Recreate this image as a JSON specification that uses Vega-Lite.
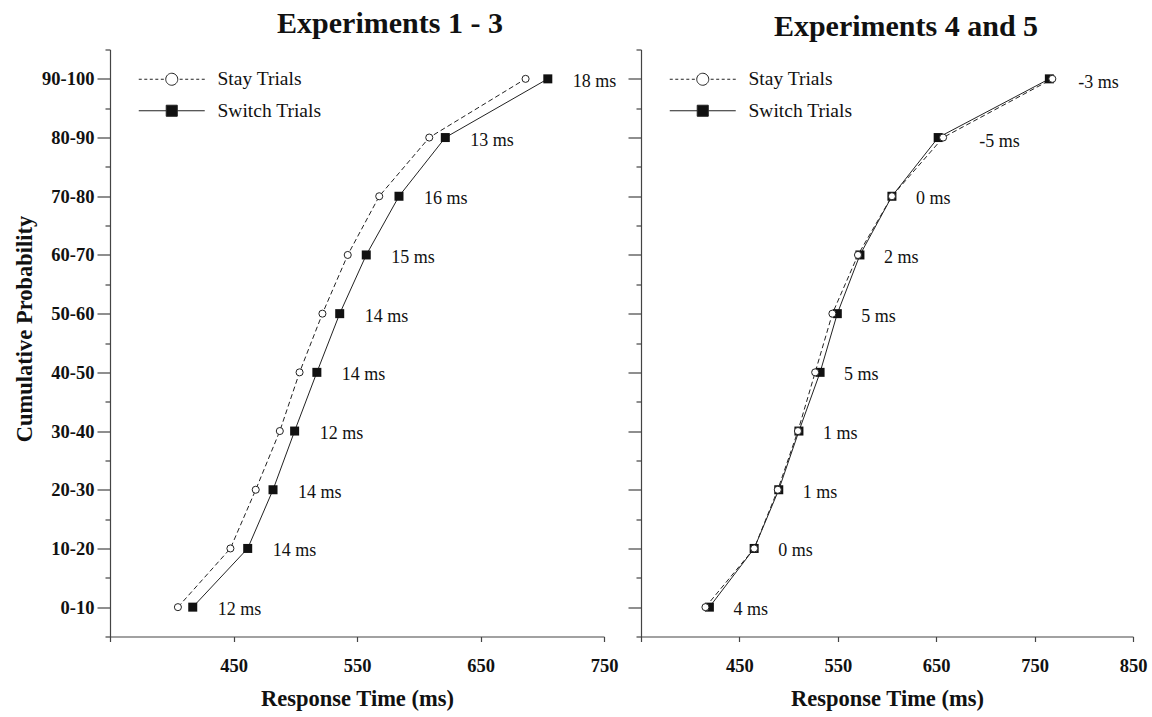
{
  "$schema": "https://vega.github.io/schema/vega-lite/v6.json",
  "background": "white",
  "padding": {"left": 13, "top": 8.5, "right": 5, "bottom": 5},
  "bounds": "flush",
  "spacing": 37,
  "config": {
    "view": {"stroke": null},
    "font": "Liberation Serif",
    "axis": {"domainColor": "#444", "tickColor": "#444", "domainWidth": 1.2, "tickWidth": 1.2, "labelFont": "Liberation Serif", "labelFontWeight": "bold", "labelFontSize": 18.5, "labelColor": "#111", "titleFont": "Liberation Serif", "titleFontWeight": "bold", "titleFontSize": 22.5, "titleColor": "#111", "grid": false, "labelFlush": false},
    "title": {"font": "Liberation Serif", "fontSize": 30, "fontWeight": "bold", "color": "#111", "anchor": "middle", "frame": "group"},
    "legend": {"labelFont": "Liberation Serif", "labelFontSize": 19.5, "labelColor": "#111", "symbolSize": 144, "labelOffset": 36, "symbolOffset": 5, "rowPadding": 10.5, "padding": 0, "symbolStrokeWidth": 1, "symbolStrokeColor": "#222"}
  },
  "datasets": {
    "left": [
      {"p": 1, "series": "Stay Trials", "rt": 405},
      {"p": 2, "series": "Stay Trials", "rt": 447.5},
      {"p": 3, "series": "Stay Trials", "rt": 468},
      {"p": 4, "series": "Stay Trials", "rt": 487.5},
      {"p": 5, "series": "Stay Trials", "rt": 503.5},
      {"p": 6, "series": "Stay Trials", "rt": 522},
      {"p": 7, "series": "Stay Trials", "rt": 542.5},
      {"p": 8, "series": "Stay Trials", "rt": 568},
      {"p": 9, "series": "Stay Trials", "rt": 608.5},
      {"p": 10, "series": "Stay Trials", "rt": 686.5},
      {"p": 1, "series": "Switch Trials", "rt": 417, "label": "12 ms"},
      {"p": 2, "series": "Switch Trials", "rt": 461.5, "label": "14 ms"},
      {"p": 3, "series": "Switch Trials", "rt": 482, "label": "14 ms"},
      {"p": 4, "series": "Switch Trials", "rt": 499.5, "label": "12 ms"},
      {"p": 5, "series": "Switch Trials", "rt": 517.5, "label": "14 ms"},
      {"p": 6, "series": "Switch Trials", "rt": 536, "label": "14 ms"},
      {"p": 7, "series": "Switch Trials", "rt": 557.5, "label": "15 ms"},
      {"p": 8, "series": "Switch Trials", "rt": 584, "label": "16 ms"},
      {"p": 9, "series": "Switch Trials", "rt": 621.5, "label": "13 ms"},
      {"p": 10, "series": "Switch Trials", "rt": 704.5, "label": "18 ms"}
    ],
    "right": [
      {"p": 1, "series": "Stay Trials", "rt": 415.5},
      {"p": 2, "series": "Stay Trials", "rt": 465},
      {"p": 3, "series": "Stay Trials", "rt": 489},
      {"p": 4, "series": "Stay Trials", "rt": 509.5},
      {"p": 5, "series": "Stay Trials", "rt": 527},
      {"p": 6, "series": "Stay Trials", "rt": 544.5},
      {"p": 7, "series": "Stay Trials", "rt": 570.5},
      {"p": 8, "series": "Stay Trials", "rt": 605},
      {"p": 9, "series": "Stay Trials", "rt": 657},
      {"p": 10, "series": "Stay Trials", "rt": 768},
      {"p": 1, "series": "Switch Trials", "rt": 419.5, "label": "4 ms"},
      {"p": 2, "series": "Switch Trials", "rt": 465, "label": "0 ms"},
      {"p": 3, "series": "Switch Trials", "rt": 490, "label": "1 ms"},
      {"p": 4, "series": "Switch Trials", "rt": 510.5, "label": "1 ms"},
      {"p": 5, "series": "Switch Trials", "rt": 532, "label": "5 ms"},
      {"p": 6, "series": "Switch Trials", "rt": 549.5, "label": "5 ms"},
      {"p": 7, "series": "Switch Trials", "rt": 572.5, "label": "2 ms"},
      {"p": 8, "series": "Switch Trials", "rt": 605, "label": "0 ms"},
      {"p": 9, "series": "Switch Trials", "rt": 652, "label": "-5 ms"},
      {"p": 10, "series": "Switch Trials", "rt": 765, "label": "-3 ms"}
    ]
  },
  "resolve": {"scale": {"shape": "independent", "fill": "independent", "stroke": "independent"}, "legend": {"shape": "independent", "fill": "independent", "stroke": "independent"}},
  "hconcat": [
    {
      "width": 494,
      "height": 587,
      "data": {"name": "left"},
      "title": {"text": "Experiments 1 - 3", "dx": 33, "offset": 9.5},
      "encoding": {
        "x": {"field": "rt", "type": "quantitative", "scale": {"domain": [350, 750], "nice": false, "zero": false},
          "axis": {"values": [350, 450, 550, 650, 750], "labelExpr": "datum.value == 350 ? '' : datum.label", "tickSize": 5, "labelPadding": 15, "title": "Response Time (ms)", "titleY": 68.5, "titleBaseline": "alphabetic"}}
      },
      "resolve": {"axis": {"y": "independent"}},
      "layer": [
        {
          "transform": [{"filter": "datum.series == 'Switch Trials'"}],
          "mark": {"type": "line", "stroke": "#222", "strokeWidth": 1},
          "encoding": {
            "y": {"field": "p", "type": "quantitative", "scale": {"domain": [0.5, 10.5], "nice": false, "zero": false},
              "axis": {"orient": "left", "values": [1, 2, 3, 4, 5, 6, 7, 8, 9, 10], "labelExpr": "['', '0-10', '10-20', '20-30', '30-40', '40-50', '50-60', '60-70', '70-80', '80-90', '90-100'][datum.value]", "tickSize": 13, "labelPadding": 3, "title": "Cumulative Probability", "titleX": -78.5, "titleY": 279, "titleBaseline": "alphabetic"}},
            "order": {"field": "p", "type": "quantitative"}
          }
        },
        {
          "transform": [{"filter": "datum.series == 'Stay Trials'"}],
          "mark": {"type": "line", "stroke": "#222", "strokeWidth": 1, "strokeDash": [5, 3]},
          "encoding": {
            "y": {"field": "p", "type": "quantitative", "scale": {"domain": [0.5, 10.5], "nice": false, "zero": false},
              "axis": {"orient": "left", "values": [0.5, 1.5, 2.5, 3.5, 4.5, 5.5, 6.5, 7.5, 8.5, 9.5, 10.5], "tickSize": 5, "labels": false, "domain": false, "title": null}},
            "order": {"field": "p", "type": "quantitative"}
          }
        },
        {
          "transform": [{"filter": "datum.series == 'Switch Trials'"}],
          "mark": {"type": "point", "shape": "square", "filled": true, "fill": "#111", "size": 81, "opacity": 1, "strokeWidth": 0},
          "encoding": {"y": {"field": "p", "type": "quantitative", "axis": null}}
        },
        {
          "transform": [{"filter": "datum.series == 'Stay Trials'"}],
          "mark": {"type": "point", "shape": "circle", "filled": true, "fill": "white", "stroke": "#222", "strokeWidth": 1, "size": 50, "opacity": 1},
          "encoding": {"y": {"field": "p", "type": "quantitative", "axis": null}}
        },
        {
          "transform": [{"filter": "datum.series == 'Switch Trials'"}],
          "mark": {"type": "text", "align": "left", "baseline": "middle", "dx": 25, "dy": 3, "fontSize": 18, "font": "Liberation Serif", "color": "#111"},
          "encoding": {"y": {"field": "p", "type": "quantitative", "axis": null}, "text": {"field": "label"}}
        },
        {
          "transform": [{"filter": "datum.p > 99"}],
          "mark": {"type": "point", "filled": true, "opacity": 1, "strokeWidth": 1},
          "encoding": {
            "y": {"field": "p", "type": "quantitative", "axis": null},
            "shape": {"field": "series", "type": "nominal", "scale": {"domain": ["Stay Trials", "Switch Trials"], "range": ["M-5.5,0L-5,0M-4.58,0L-4.08,0M-3.66,0L-3.16,0M-2.74,0L-2.24,0M-1.82,0L-1.32,0M1.32,0L1.82,0M2.24,0L2.74,0M3.16,0L3.66,0M4.08,0L4.58,0M5,0L5.5,0M1,0A1,1,0,1,1,-1,0A1,1,0,1,1,1,0Z", "M-5.5,0L-0.92,0M0.92,0L5.5,0M-0.92,-0.92L0.92,-0.92L0.92,0.92L-0.92,0.92Z"]}, "legend": {"title": null, "orient": "none", "legendX": 47, "legendY": 20}},
            "fill": {"field": "series", "type": "nominal", "scale": {"domain": ["Stay Trials", "Switch Trials"], "range": ["white", "#111"]}, "legend": {"title": null, "orient": "none", "legendX": 47, "legendY": 20}},
            "stroke": {"field": "series", "type": "nominal", "scale": {"domain": ["Stay Trials", "Switch Trials"], "range": ["#222", "#222"]}, "legend": {"title": null, "orient": "none", "legendX": 47, "legendY": 20}}
          }
        }
      ]
    },
    {
      "width": 492,
      "height": 587,
      "data": {"name": "right"},
      "title": {"text": "Experiments 4 and 5", "dx": 19, "offset": 6.5},
      "encoding": {
        "x": {"field": "rt", "type": "quantitative", "scale": {"domain": [350, 850], "nice": false, "zero": false},
          "axis": {"values": [350, 450, 550, 650, 750, 850], "labelExpr": "datum.value == 350 ? '' : datum.label", "tickSize": 5, "labelPadding": 15, "title": "Response Time (ms)", "titleY": 68.5, "titleBaseline": "alphabetic"}}
      },
      "resolve": {"axis": {"y": "independent"}},
      "layer": [
        {
          "transform": [{"filter": "datum.series == 'Switch Trials'"}],
          "mark": {"type": "line", "stroke": "#222", "strokeWidth": 1},
          "encoding": {
            "y": {"field": "p", "type": "quantitative", "scale": {"domain": [0.5, 10.5], "nice": false, "zero": false},
              "axis": {"orient": "left", "values": [1, 2, 3, 4, 5, 6, 7, 8, 9, 10], "labels": false, "tickSize": 13, "title": null}},
            "order": {"field": "p", "type": "quantitative"}
          }
        },
        {
          "transform": [{"filter": "datum.series == 'Stay Trials'"}],
          "mark": {"type": "line", "stroke": "#222", "strokeWidth": 1, "strokeDash": [5, 3]},
          "encoding": {
            "y": {"field": "p", "type": "quantitative", "scale": {"domain": [0.5, 10.5], "nice": false, "zero": false},
              "axis": {"orient": "left", "values": [0.5, 1.5, 2.5, 3.5, 4.5, 5.5, 6.5, 7.5, 8.5, 9.5, 10.5], "tickSize": 5, "labels": false, "domain": false, "title": null}},
            "order": {"field": "p", "type": "quantitative"}
          }
        },
        {
          "transform": [{"filter": "datum.series == 'Switch Trials'"}],
          "mark": {"type": "point", "shape": "square", "filled": true, "fill": "#111", "size": 81, "opacity": 1, "strokeWidth": 0},
          "encoding": {"y": {"field": "p", "type": "quantitative", "axis": null}}
        },
        {
          "transform": [{"filter": "datum.series == 'Stay Trials'"}],
          "mark": {"type": "point", "shape": "circle", "filled": true, "fill": "white", "stroke": "#222", "strokeWidth": 1, "size": 50, "opacity": 1},
          "encoding": {"y": {"field": "p", "type": "quantitative", "axis": null}}
        },
        {
          "transform": [{"filter": "datum.series == 'Switch Trials' && datum.label != '-5 ms' && datum.label != '-3 ms'"}],
          "mark": {"type": "text", "align": "left", "baseline": "middle", "dx": 24, "dy": 3, "fontSize": 18, "font": "Liberation Serif", "color": "#111"},
          "encoding": {"y": {"field": "p", "type": "quantitative", "axis": null}, "text": {"field": "label"}}
        },
        {
          "transform": [{"filter": "datum.label == '-3 ms'"}],
          "mark": {"type": "text", "align": "left", "baseline": "middle", "dx": 29, "dy": 4, "fontSize": 18, "font": "Liberation Serif", "color": "#111"},
          "encoding": {"y": {"field": "p", "type": "quantitative", "axis": null}, "text": {"field": "label"}}
        },
        {
          "transform": [{"filter": "datum.label == '-5 ms'"}],
          "mark": {"type": "text", "align": "left", "baseline": "middle", "dx": 41, "dy": 4, "fontSize": 18, "font": "Liberation Serif", "color": "#111"},
          "encoding": {"y": {"field": "p", "type": "quantitative", "axis": null}, "text": {"field": "label"}}
        },
        {
          "transform": [{"filter": "datum.p > 99"}],
          "mark": {"type": "point", "filled": true, "opacity": 1, "strokeWidth": 1},
          "encoding": {
            "y": {"field": "p", "type": "quantitative", "axis": null},
            "shape": {"field": "series", "type": "nominal", "scale": {"domain": ["Stay Trials", "Switch Trials"], "range": ["M-5.5,0L-5,0M-4.58,0L-4.08,0M-3.66,0L-3.16,0M-2.74,0L-2.24,0M-1.82,0L-1.32,0M1.32,0L1.82,0M2.24,0L2.74,0M3.16,0L3.66,0M4.08,0L4.58,0M5,0L5.5,0M1,0A1,1,0,1,1,-1,0A1,1,0,1,1,1,0Z", "M-5.5,0L-0.92,0M0.92,0L5.5,0M-0.92,-0.92L0.92,-0.92L0.92,0.92L-0.92,0.92Z"]}, "legend": {"title": null, "orient": "none", "legendX": 47, "legendY": 20}},
            "fill": {"field": "series", "type": "nominal", "scale": {"domain": ["Stay Trials", "Switch Trials"], "range": ["white", "#111"]}, "legend": {"title": null, "orient": "none", "legendX": 47, "legendY": 20}},
            "stroke": {"field": "series", "type": "nominal", "scale": {"domain": ["Stay Trials", "Switch Trials"], "range": ["#222", "#222"]}, "legend": {"title": null, "orient": "none", "legendX": 47, "legendY": 20}}
          }
        }
      ]
    }
  ]
}
